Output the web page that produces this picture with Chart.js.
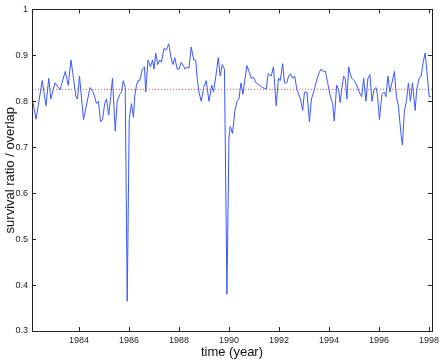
<!DOCTYPE html>
<html>
<head>
<meta charset="utf-8">
<script src="https://cdn.jsdelivr.net/npm/chart.js@4"></script>
<style>
  html, body { margin: 0; padding: 0; background: #fff; }
  #wrap { width: 443px; height: 360px; }
</style>
</head>
<body>
<div id="wrap"><canvas id="survival"></canvas></div>
<script>
// time (year) of each traced sample
const years = [
  1982.12, 1982.17, 1982.28, 1982.53, 1982.68, 1982.79, 1982.87, 1983.04, 1983.24, 1983.45,
  1983.57, 1983.68, 1983.88, 1983.94, 1984.02, 1984.18, 1984.33, 1984.44, 1984.57, 1984.70,
  1984.78, 1984.86, 1984.94, 1985.03, 1985.10, 1985.19, 1985.27, 1985.34, 1985.45, 1985.53,
  1985.63, 1985.70, 1985.77, 1985.85, 1985.93, 1986.01, 1986.10, 1986.18, 1986.23, 1986.30,
  1986.36, 1986.43, 1986.54, 1986.62, 1986.67, 1986.76, 1986.86, 1986.94, 1987.00, 1987.07,
  1987.15, 1987.23, 1987.30, 1987.40, 1987.50, 1987.59, 1987.70, 1987.76, 1987.83, 1987.93,
  1988.00, 1988.09, 1988.20, 1988.24, 1988.32, 1988.40, 1988.49, 1988.59, 1988.67, 1988.73,
  1988.80, 1988.89, 1988.99, 1989.09, 1989.20, 1989.31, 1989.38, 1989.49, 1989.57, 1989.65,
  1989.73, 1989.82, 1989.92, 1990.00, 1990.05, 1990.14, 1990.24, 1990.32, 1990.40, 1990.48,
  1990.56, 1990.62, 1990.72, 1990.80, 1990.89, 1990.98, 1991.09, 1991.22, 1991.35, 1991.49,
  1991.57, 1991.69, 1991.78, 1991.89, 1991.98, 1992.05, 1992.15, 1992.22, 1992.31, 1992.39,
  1992.46, 1992.55, 1992.63, 1992.72, 1992.86, 1992.95, 1993.02, 1993.12, 1993.22, 1993.30,
  1993.39, 1993.48, 1993.59, 1993.68, 1993.78, 1993.86, 1993.95, 1994.04, 1994.15, 1994.21,
  1994.31, 1994.39, 1994.45, 1994.52, 1994.59, 1994.65, 1994.72, 1994.79, 1994.85, 1994.92,
  1995.01, 1995.11, 1995.21, 1995.31, 1995.39, 1995.48, 1995.56, 1995.64, 1995.72, 1995.80,
  1995.88, 1995.94, 1996.02, 1996.12, 1996.21, 1996.28, 1996.36, 1996.44, 1996.52, 1996.62,
  1996.70, 1996.78, 1996.88, 1996.94, 1997.02, 1997.10, 1997.18, 1997.26, 1997.34, 1997.45,
  1997.51, 1997.61, 1997.69, 1997.77, 1997.85, 1997.91, 1998.01, 1998.09
];

// survival ratio / overlap at each of those times
const ratio = [
  0.800, 0.795, 0.761, 0.845, 0.790, 0.850, 0.805, 0.840, 0.825, 0.865,
  0.835, 0.890, 0.810, 0.805, 0.855, 0.760, 0.800, 0.830, 0.820, 0.795,
  0.800, 0.755, 0.760, 0.795, 0.805, 0.770, 0.810, 0.850, 0.735, 0.800,
  0.815, 0.820, 0.845, 0.830, 0.365, 0.760, 0.795, 0.765, 0.810, 0.835,
  0.845, 0.845, 0.870, 0.875, 0.820, 0.890, 0.875, 0.890, 0.870, 0.905,
  0.880, 0.890, 0.885, 0.915, 0.912, 0.925, 0.890, 0.880, 0.895, 0.870,
  0.870, 0.885, 0.875, 0.870, 0.875, 0.872, 0.918, 0.890, 0.890, 0.850,
  0.820, 0.800, 0.830, 0.845, 0.800, 0.835, 0.820, 0.860, 0.895, 0.855,
  0.880, 0.870, 0.380, 0.720, 0.745, 0.730, 0.780, 0.800, 0.805, 0.840,
  0.815, 0.840, 0.878, 0.865, 0.850, 0.852, 0.840, 0.835, 0.830, 0.826,
  0.860, 0.855, 0.875, 0.790, 0.850, 0.845, 0.882, 0.840, 0.840, 0.855,
  0.860, 0.850, 0.855, 0.825, 0.805, 0.780, 0.820, 0.820, 0.755, 0.805,
  0.820, 0.840, 0.860, 0.870, 0.865, 0.865, 0.840, 0.815, 0.795, 0.757,
  0.835, 0.825, 0.797, 0.830, 0.855, 0.850, 0.805, 0.875, 0.860, 0.850,
  0.845, 0.835, 0.820, 0.810, 0.850, 0.800, 0.850, 0.858, 0.800, 0.825,
  0.830, 0.815, 0.760, 0.815, 0.820, 0.810, 0.855, 0.820, 0.840, 0.865,
  0.810, 0.790, 0.730, 0.705, 0.780, 0.800, 0.840, 0.800, 0.840, 0.780,
  0.825, 0.850, 0.855, 0.885, 0.905, 0.870, 0.810, 0.810
];

// mean level drawn as the red dotted line
const meanLevel = 0.826;

const xRange = [1982.12, 1998.12];
const xTicks = [1984, 1986, 1988, 1990, 1992, 1994, 1996, 1998];
const yTicks = [0.3, 0.4, 0.5, 0.6, 0.7, 0.8, 0.9, 1];

const FONT = "'Liberation Sans', Arial, Helvetica, sans-serif";

// MATLAB-style box with inward tick marks on all four sides
const boxPlugin = {
  id: "box",
  afterDraw(chart) {
    const { ctx, chartArea: a, scales } = chart;
    const len = 4;
    ctx.save();
    ctx.strokeStyle = "#222";
    ctx.lineWidth = 1;
    ctx.beginPath();
    xTicks.forEach((t) => {
      const px = Math.round(scales.x.getPixelForValue(t)) + 0.5;
      ctx.moveTo(px, a.bottom);
      ctx.lineTo(px, a.bottom - len);
      ctx.moveTo(px, a.top);
      ctx.lineTo(px, a.top + len);
    });
    yTicks.forEach((t) => {
      const py = Math.round(scales.y.getPixelForValue(t)) + 0.5;
      ctx.moveTo(a.left, py);
      ctx.lineTo(a.left + len, py);
      ctx.moveTo(a.right, py);
      ctx.lineTo(a.right - len, py);
    });
    ctx.stroke();
    ctx.strokeRect(Math.round(a.left) + 0.5, Math.round(a.top) + 0.5,
      Math.round(a.right - a.left), Math.round(a.bottom - a.top));
    ctx.restore();
  },
};

const ctx = document.getElementById("survival").getContext("2d");

new Chart(ctx, {
  type: "line",
  data: {
    datasets: [
      {
        label: "survival ratio",
        data: years.map((y, i) => ({ x: y, y: ratio[i] })),
        borderColor: "#3a58ff",
        borderWidth: 1,
        pointRadius: 0,
        tension: 0,
        order: 1,
      },
      {
        label: "mean",
        data: xRange.map((x) => ({ x: x, y: meanLevel })),
        borderColor: "#ff4a4a",
        borderWidth: 1,
        borderDash: [1, 2],
        pointRadius: 0,
        order: 2,
      },
    ],
  },
  options: {
    responsive: true,
    maintainAspectRatio: false,
    animation: false,
    layout: { padding: { left: 0, right: 10, top: 8, bottom: 0 } },
    plugins: {
      legend: { display: false },
      tooltip: { enabled: false },
    },
    scales: {
      x: {
        type: "linear",
        min: xRange[0],
        max: xRange[1],
        afterBuildTicks: (scale) => {
          scale.ticks = xTicks.map((v) => ({ value: v }));
        },
        afterFit: (scale) => {
          scale.height = 29;
        },
        grid: { display: false, drawTicks: false },
        border: { display: false },
        ticks: {
          padding: 4,
          maxRotation: 0,
          color: "#222",
          font: { family: FONT, size: 9 },
          callback: (v) => String(v),
        },
        title: {
          display: true,
          text: "time (year)",
          color: "#111",
          padding: 0,
          font: { family: FONT, size: 13 },
        },
      },
      y: {
        min: 0.3,
        max: 1,
        afterBuildTicks: (scale) => {
          scale.ticks = yTicks.map((v) => ({ value: v }));
        },
        afterFit: (scale) => {
          scale.width = 32;
        },
        grid: { display: false, drawTicks: false },
        border: { display: false },
        ticks: {
          padding: 4,
          color: "#222",
          font: { family: FONT, size: 9 },
          callback: (v) => String(Math.round(v * 10) / 10),
        },
        title: {
          display: true,
          text: "survival ratio / overlap",
          color: "#111",
          padding: { top: 3, bottom: 0 },
          font: { family: FONT, size: 13 },
        },
      },
    },
  },
  plugins: [boxPlugin],
});
</script>
</body>
</html>
